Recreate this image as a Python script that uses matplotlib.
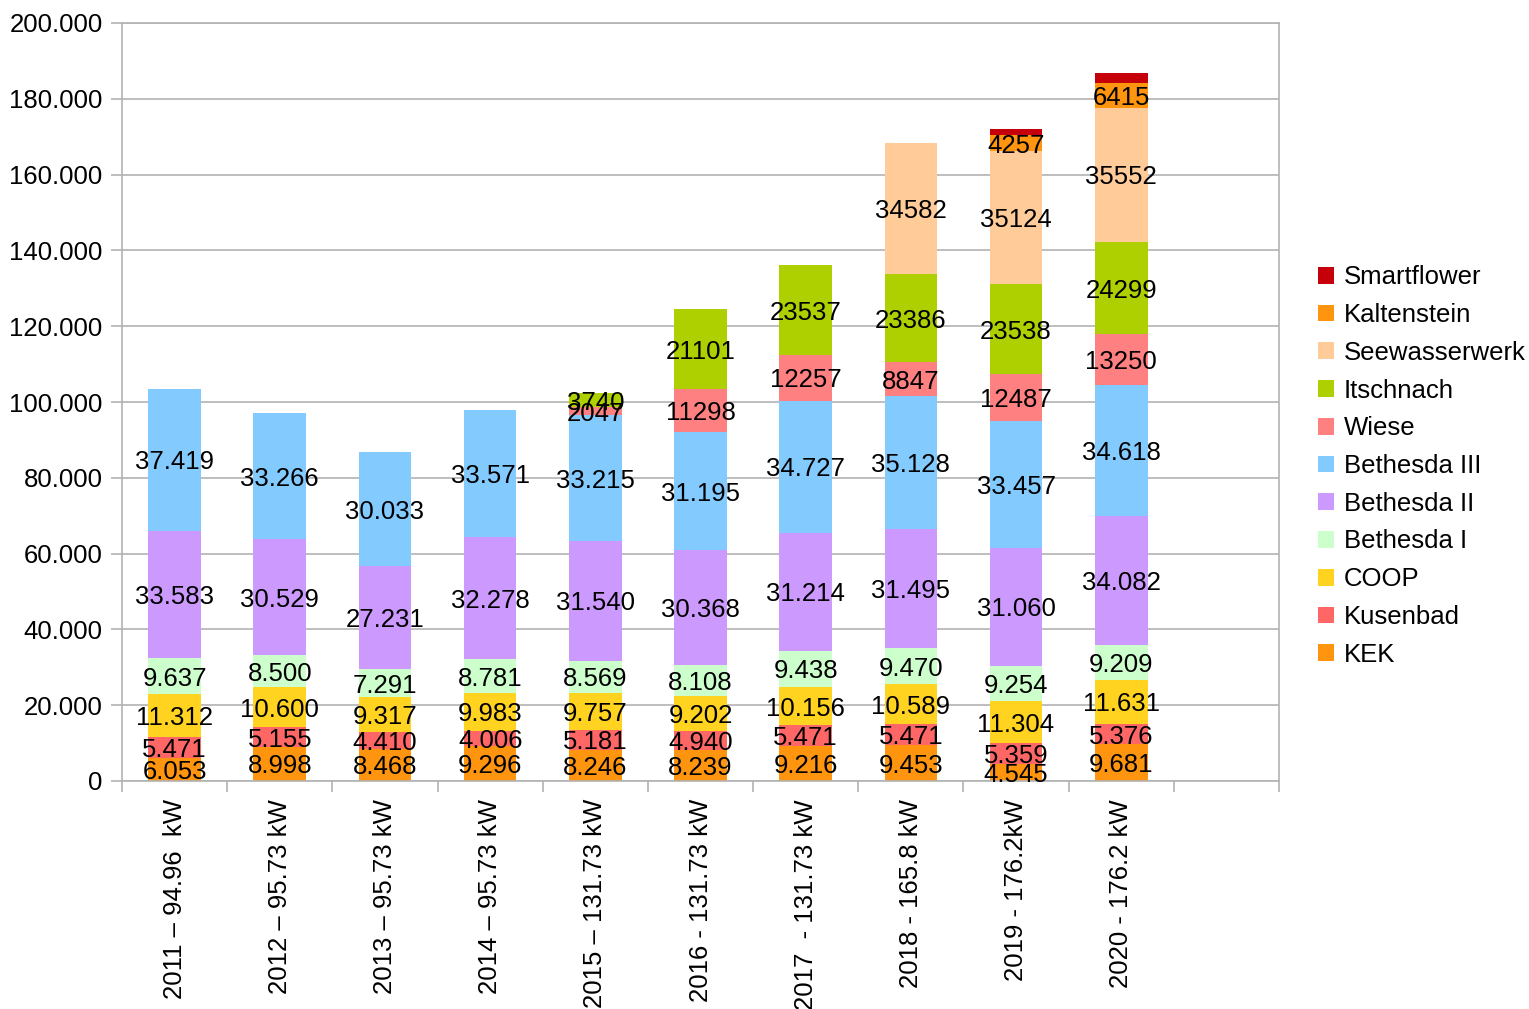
import matplotlib
matplotlib.use("Agg")
import matplotlib.pyplot as plt
from matplotlib.ticker import FuncFormatter, MultipleLocator
import numpy as np

plt.rcParams['font.family'] = ['Liberation Sans', 'DejaVu Sans']

categories = ["2011 \u2013 94.96  kW", "2012 \u2013 95.73 kW", "2013 \u2013 95.73 kW",
              "2014 \u2013 95.73 kW", "2015 \u2013 131.73 kW", "2016 - 131.73 kW",
              "2017  - 131.73 kW", "2018 - 165.8 kW", "2019 - 176.2kW", "2020 - 176.2 kW"]

kek = [6053, 8998, 8468, 9296, 8246, 8239, 9216, 9453, 4545, 9681]
kusenbad = [5471, 5155, 4410, 4006, 5181, 4940, 5471, 5471, 5359, 5376]
coop = [11312, 10600, 9317, 9983, 9757, 9202, 10156, 10589, 11304, 11631]
bethesda1 = [9637, 8500, 7291, 8781, 8569, 8108, 9438, 9470, 9254, 9209]
bethesda2 = [33583, 30529, 27231, 32278, 31540, 30368, 31214, 31495, 31060, 34082]
bethesda3 = [37419, 33266, 30033, 33571, 33215, 31195, 34727, 35128, 33457, 34618]
wiese = [0, 0, 0, 0, 2047, 11298, 12257, 8847, 12487, 13250]
itschnach = [0, 0, 0, 0, 3740, 21101, 23537, 23386, 23538, 24299]
seewasserwerk = [0, 0, 0, 0, 0, 0, 0, 34582, 35124, 35552]
kaltenstein = [0, 0, 0, 0, 0, 0, 0, 0, 4257, 6415]
smartflower = [0, 0, 0, 0, 0, 0, 0, 0, 1600, 2700]

series = [
    ("KEK", kek, "#ff950e", "dot"),
    ("Kusenbad", kusenbad, "#ff6666", "dot"),
    ("COOP", coop, "#ffd320", "dot"),
    ("Bethesda I", bethesda1, "#ccffcc", "dot"),
    ("Bethesda II", bethesda2, "#cc99ff", "dot"),
    ("Bethesda III", bethesda3, "#83caff", "dot"),
    ("Wiese", wiese, "#ff8080", "plain"),
    ("Itschnach", itschnach, "#aecf00", "plain"),
    ("Seewasserwerk", seewasserwerk, "#ffcc99", "plain"),
    ("Kaltenstein", kaltenstein, "#ff950e", "plain"),
    ("Smartflower", smartflower, "#c5000b", None),
]

FS = 18.5
fig = plt.figure(figsize=(15.29, 10.09), dpi=100)
ax = fig.add_axes([122/1529, 1-781/1009, (1279-122)/1529, (781-23)/1009])

x = np.arange(len(categories))
bottom = np.zeros(len(categories))
handles = []
for name, vals, color, fmt in series:
    v = np.array(vals, dtype=float)
    b = ax.bar(x, v, 0.5, bottom=bottom, color=color, label=name, zorder=2, linewidth=0)
    handles.append(b)
    if fmt is not None:
        for xi, vi, bi in zip(x, v, bottom):
            if vi > 0:
                if fmt == "dot":
                    s = f"{int(vi):,}".replace(",", ".")
                else:
                    s = f"{int(vi)}"
                ax.text(xi, bi + vi/2, s, ha='center', va='center_baseline', fontsize=FS,
                        color='black', zorder=3)
    bottom = bottom + v

ax.set_xlim(-0.5, 10.5)
ax.set_ylim(0, 200000)
ax.yaxis.set_major_locator(MultipleLocator(20000))
ax.yaxis.set_major_formatter(FuncFormatter(lambda v, p: f"{int(v):,}".replace(",", ".")))
ax.grid(axis='y', color='#b3b3b3', linewidth=1.2, zorder=0)
ax.set_axisbelow(True)
for sp in ax.spines.values():
    sp.set_color('#b3b3b3')
    sp.set_linewidth(1.2)

ax.set_xticks(x)
ax.set_xticklabels(categories, rotation=90, ha='center', va='top', fontsize=FS)
ax.set_xticks(np.arange(-0.5, 11, 1), minor=True)
ax.tick_params(axis='x', which='major', length=0, pad=13)
ax.tick_params(axis='x', which='minor', length=8, color='#b3b3b3', width=1.2)
ax.tick_params(axis='y', length=8, color='#b3b3b3', width=1.2, pad=6, labelsize=FS)

leg = fig.legend(handles[::-1], [s[0] for s in series][::-1], loc='center left',
                 bbox_to_anchor=(1318/1529, 1-466/1009), frameon=False, fontsize=FS,
                 handlelength=0.62, handleheight=0.62, handletextpad=0.38,
                 labelspacing=0.535, borderpad=0, borderaxespad=0)

fig.savefig("out.png", dpi=100)
